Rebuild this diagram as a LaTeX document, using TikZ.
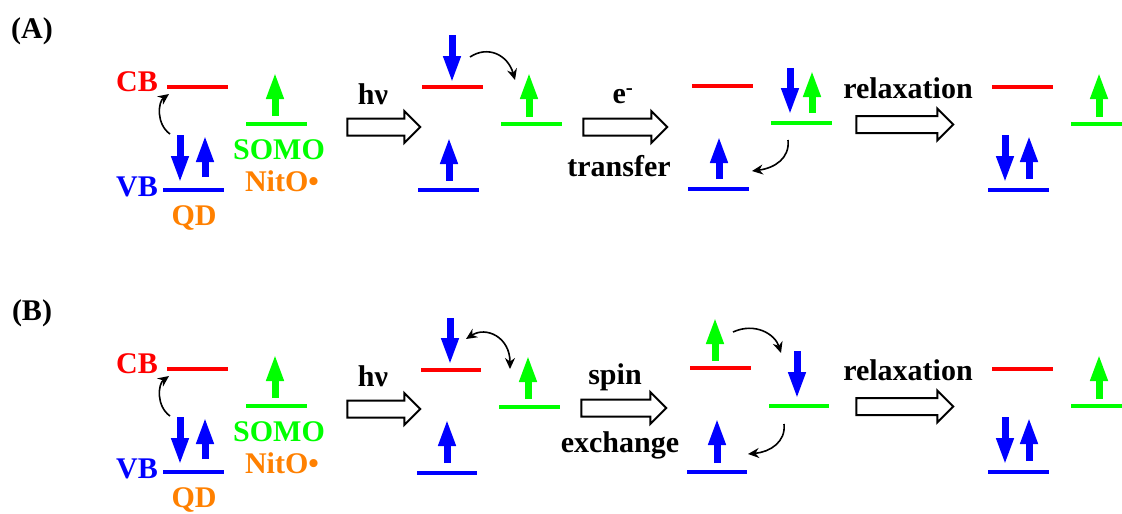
\documentclass[tikz,border=0pt]{standalone}
\usepackage{fontspec}
\setmainfont{Liberation Serif}
\usetikzlibrary{arrows.meta,shapes.arrows}
\definecolor{cbred}{RGB}{255,0,0}
\definecolor{somogreen}{RGB}{0,255,0}
\definecolor{vbblue}{RGB}{0,0,255}
\definecolor{qdorange}{RGB}{255,128,0}

\begin{document}
\begin{tikzpicture}[
    x=1pt, y=-1pt,
    lbl/.style={font=\fontsize{30}{32}\selectfont\bfseries, inner sep=0pt},
    level/.style={line width=3.5pt},
    spin/.style={line width=7pt, -{Triangle[width=16pt,length=27pt]}},
    hop/.style={line width=1.6pt, -{Stealth[length=11pt,width=10pt]}},
    swap/.style={line width=1.6pt, {Stealth[length=11pt,width=10pt]}-{Stealth[length=11pt,width=10pt]}},
    bigarrow/.style={single arrow, draw, line width=2pt, fill=white,
        inner sep=0pt, inner ysep=7.5pt, minimum width=30pt,
        single arrow head extend=7.5pt}
]
\useasboundingbox (0,0) rectangle (1122,514);

% parts shared by both panels
\foreach \dy/\tag in {0/A,282/B} {
  \begin{scope}[shift={(0,\dy)}]
    \node (tag\tag) [lbl] at (32,31) {(\tag)};
    % QD and NitO before excitation
    \node (cb\tag) [lbl, text=cbred] at (137,82) {CB};
    \node (vb\tag) [lbl, text=vbblue] at (137,187) {VB};
    \node (qd\tag) [lbl, text=qdorange] at (194,218) {QD};
    \node (somo\tag) [lbl, text=somogreen] at (279,150) {SOMO};
    \node (nito\tag) [lbl, text=qdorange] at (282,181) {NitO•};
    \draw[level, cbred] (167,87) -- (228,87);
    \draw[level, vbblue] (163,190) -- (224,190);
    \draw[level, somogreen] (246,124) -- (307,124);
    \draw[spin, somogreen] (275,116) -- (275,72);
    \draw[spin, vbblue] (180,135) -- (180,183);
    \draw[spin, vbblue] (205,177) -- (205,135);
    \draw[hop] (170,134) .. controls (156,124) and (158,102) .. (169,94);
    % excitation
    \node (hnu\tag) [lbl] at (373,94) {hν};
    \node (excite\tag) [bigarrow, minimum height=73pt] at (379.5,127) {};
    % relaxation
    \node (relaxtext\tag) [lbl] at (908,88) {relaxation};
    \node (relax\tag) [bigarrow, minimum height=97pt] at (900.5,124.5) {};
    % back to ground state
    \draw[level, cbred] (992,87) -- (1053,87);
    \draw[level, vbblue] (988,190) -- (1049,190);
    \draw[level, somogreen] (1071,124) -- (1122,124);
    \draw[spin, somogreen] (1099,117) -- (1099,72);
    \draw[spin, vbblue] (1005,135) -- (1005,183);
    \draw[spin, vbblue] (1029,179) -- (1029,135);
  \end{scope}
}

% (A) electron transfer
\draw[level, cbred] (422,87) -- (483,87);
\draw[level, vbblue] (418,190) -- (479,190);
\draw[level, somogreen] (501,124) -- (562,124);
\draw[spin, vbblue] (452,35) -- (452,83);
\draw[spin, vbblue] (449,181) -- (449,137);
\draw[spin, somogreen] (529,117) -- (529,72);
\draw[hop] (470,57) .. controls (488,45) and (508,55) .. (515,80);
\node (eminus) [lbl] at (623,96) {e\textsuperscript{-}};
\node (transferarrow) [bigarrow, minimum height=84pt] at (621,127) {};
\node (transfer) [lbl] at (619,166) {transfer};
\draw[level, cbred] (692,86) -- (753,86);
\draw[level, somogreen] (771,123) -- (832,123);
\draw[level, vbblue] (688,189) -- (749,189);
\draw[spin, vbblue] (790,68) -- (790,115);
\draw[spin, somogreen] (812,113) -- (812,70);
\draw[spin, vbblue] (719,179) -- (719,136);
\draw[hop] (788,140) .. controls (790,158) and (775,168) .. (752,171);

% (B) spin exchange
\begin{scope}[shift={(0,282)}]
  \draw[level, cbred] (421,88) -- (481,88);
  \draw[level, vbblue] (417,191) -- (477,191);
  \draw[level, somogreen] (499,125) -- (560,125);
  \draw[spin, vbblue] (450,36) -- (450,83);
  \draw[spin, vbblue] (447,181) -- (447,137);
  \draw[spin, somogreen] (528,117) -- (528,73);
  \draw[swap] (466,57) .. controls (486,44) and (510,55) .. (510,87);
  \node (spin) [lbl] at (615,95) {spin};
  \node (exchangearrow) [bigarrow, minimum height=85pt] at (619.5,126) {};
  \node (exchange) [lbl] at (620,163) {exchange};
  \draw[level, cbred] (690,86) -- (751,86);
  \draw[level, somogreen] (769,124) -- (829,124);
  \draw[level, vbblue] (687,190) -- (747,190);
  \draw[spin, somogreen] (715,79) -- (715,35);
  \draw[spin, vbblue] (797,69) -- (797,117);
  \draw[spin, vbblue] (717,181) -- (717,136);
  \draw[hop] (733,50) .. controls (755,40) and (775,52) .. (781,71);
  \draw[hop] (784,142) .. controls (786,160) and (770,170) .. (748,172);
\end{scope}
\end{tikzpicture}
\end{document}
